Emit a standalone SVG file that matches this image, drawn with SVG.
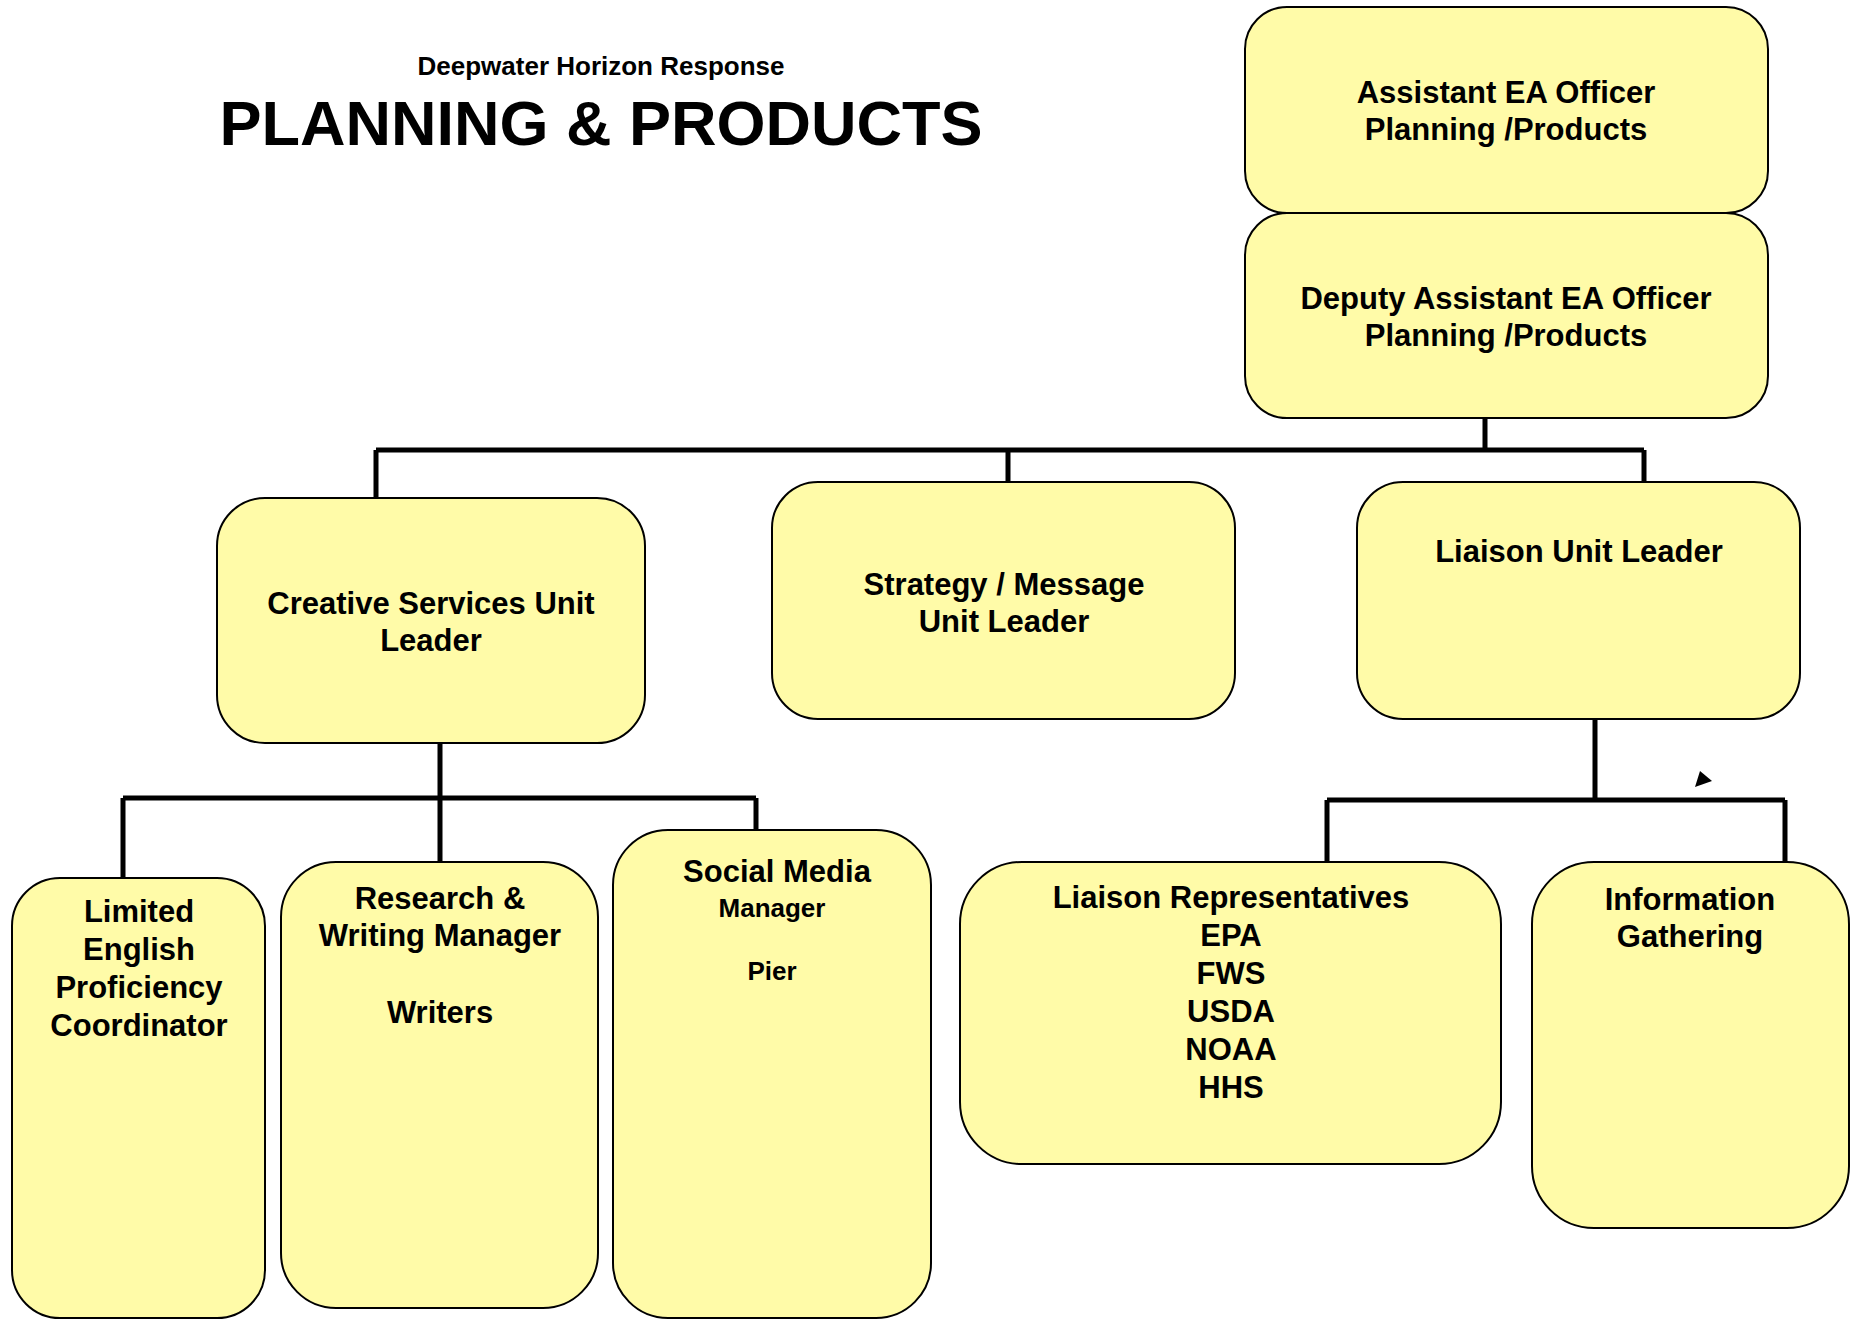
<svg xmlns="http://www.w3.org/2000/svg" width="1854" height="1320" viewBox="0 0 1854 1320">
<style>
.box{fill:#FFFBA8;stroke:#000;stroke-width:2}
.t{font-family:"Liberation Sans",Arial,sans-serif;font-weight:bold;fill:#000;text-anchor:middle}
.l{font-size:31px}
.s{font-size:26px}
.c{fill:none;stroke:#000;stroke-width:5}
</style>
<rect width="1854" height="1320" fill="#fff"/>
<g id="title">
<text class="t" x="601" y="75" font-size="26">Deepwater Horizon Response</text>
<text class="t" x="601" y="145" font-size="63">PLANNING &amp; PRODUCTS</text>
</g>
<g id="connectors">
<path class="c" d="M1485 418V450M376 450H1644M376 450V498M1008 450V482M1644 450V482"/>
<path class="c" d="M440 743V798M123 798H756M123 798V878M440 798V862M756 798V830"/>
<path class="c" d="M1595 719V800M1327 800H1785M1327 800V862M1785 800V862"/>
<polygon points="1700,771 1695,787 1712,781" fill="#000"/>
</g>
<g id="assistant">
<rect class="box" x="1245" y="7" width="523" height="206" rx="42"/>
<text class="t l" x="1506" y="103">Assistant EA Officer</text>
<text class="t l" x="1506" y="140">Planning /Products</text>
</g>
<g id="deputy">
<rect class="box" x="1245" y="213" width="523" height="205" rx="42"/>
<text class="t l" x="1506" y="309">Deputy Assistant EA Officer</text>
<text class="t l" x="1506" y="346">Planning /Products</text>
</g>
<g id="creative">
<rect class="box" x="217" y="498" width="428" height="245" rx="48"/>
<text class="t l" x="431" y="614">Creative Services Unit</text>
<text class="t l" x="431" y="651">Leader</text>
</g>
<g id="strategy">
<rect class="box" x="772" y="482" width="463" height="237" rx="46"/>
<text class="t l" x="1004" y="595">Strategy / Message</text>
<text class="t l" x="1004" y="632">Unit Leader</text>
</g>
<g id="liaison-leader">
<rect class="box" x="1357" y="482" width="443" height="237" rx="46"/>
<text class="t l" x="1579" y="562">Liaison Unit Leader</text>
</g>
<g id="limited">
<rect class="box" x="12" y="878" width="253" height="440" rx="48"/>
<text class="t l" x="139" y="922">Limited</text>
<text class="t l" x="139" y="960">English</text>
<text class="t l" x="139" y="998">Proficiency</text>
<text class="t l" x="139" y="1036">Coordinator</text>
</g>
<g id="research">
<rect class="box" x="281" y="862" width="317" height="446" rx="55"/>
<text class="t l" x="440" y="909">Research &amp;</text>
<text class="t l" x="440" y="946">Writing Manager</text>
<text class="t l" x="440" y="1023">Writers</text>
</g>
<g id="social">
<rect class="box" x="613" y="830" width="318" height="488" rx="55"/>
<text class="t l" x="777" y="882">Social Media</text>
<text class="t s" x="772" y="917">Manager</text>
<text class="t s" x="772" y="980">Pier</text>
</g>
<g id="liaison-reps">
<rect class="box" x="960" y="862" width="541" height="302" rx="62"/>
<text class="t l" x="1231" y="908">Liaison Representatives</text>
<text class="t l" x="1231" y="946">EPA</text>
<text class="t l" x="1231" y="984">FWS</text>
<text class="t l" x="1231" y="1022">USDA</text>
<text class="t l" x="1231" y="1060">NOAA</text>
<text class="t l" x="1231" y="1098">HHS</text>
</g>
<g id="info">
<rect class="box" x="1532" y="862" width="317" height="366" rx="62"/>
<text class="t l" x="1690" y="910">Information</text>
<text class="t l" x="1690" y="947">Gathering</text>
</g>
</svg>
